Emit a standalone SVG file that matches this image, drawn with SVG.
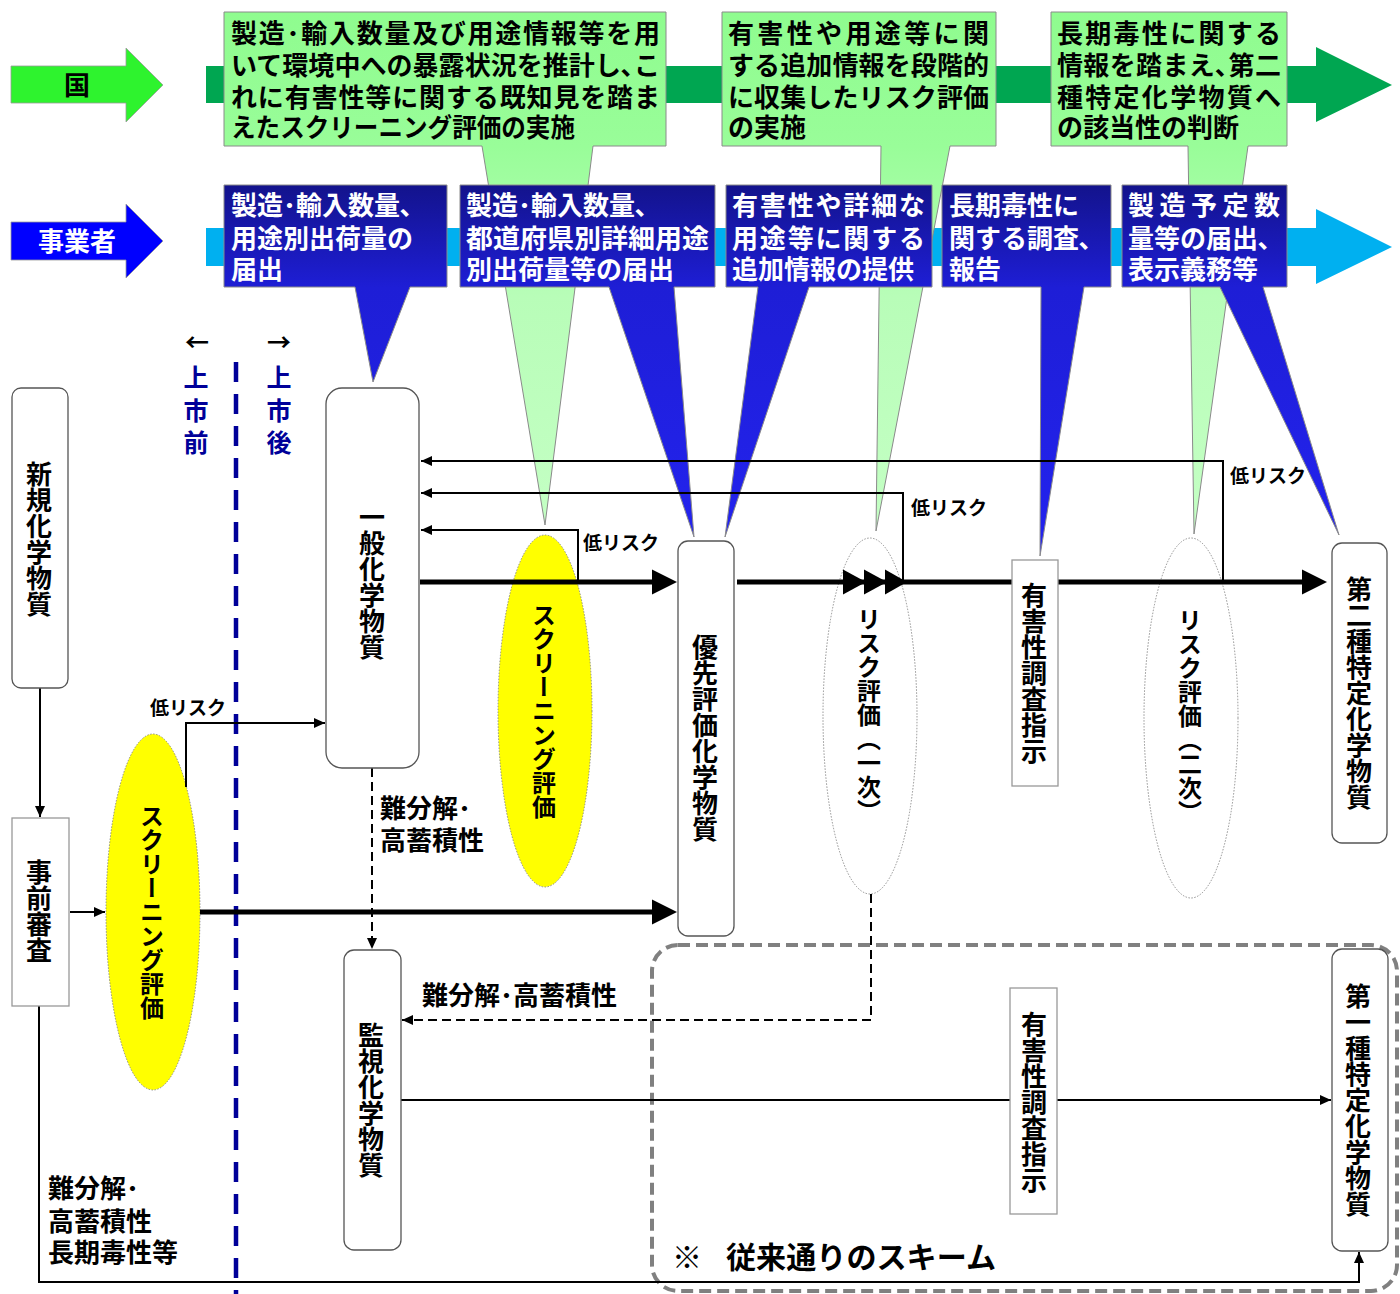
<svg xmlns="http://www.w3.org/2000/svg" width="1400" height="1294" viewBox="0 0 1400 1294">
<defs>
<linearGradient id="gGreen" gradientUnits="userSpaceOnUse" x1="0" y1="12" x2="0" y2="530">
<stop offset="0" stop-color="#8ffc8f"/>
<stop offset="0.26" stop-color="#99fd99"/>
<stop offset="0.55" stop-color="#b8fdb8"/>
<stop offset="1" stop-color="#c4ffc4"/>
</linearGradient>
<linearGradient id="gBlue" gradientUnits="userSpaceOnUse" x1="0" y1="185" x2="0" y2="540">
<stop offset="0" stop-color="#13138c"/>
<stop offset="0.29" stop-color="#1e1ed6"/>
<stop offset="1" stop-color="#2323ee"/>
</linearGradient>
<marker id="ah" markerUnits="userSpaceOnUse" markerWidth="12" markerHeight="10" refX="11" refY="5" orient="auto">
<path d="M0,0 L11,5 L0,10 Z" fill="#000"/>
</marker>
</defs>
<style>
text { font-family: "Noto Sans CJK JP", "Noto Sans", sans-serif; font-weight: bold; }
.v { writing-mode: vertical-rl; text-anchor: middle; }
.box { fill: #fff; stroke: #555; stroke-width: 1.3; }
.sq { fill: #fff; stroke: #999; stroke-width: 1.3; }
.ey { fill: #ffff00; stroke: #777; stroke-width: 0.8; stroke-dasharray: 1.5 1.5; }
.ew { fill: #fff; stroke: #777; stroke-width: 0.8; stroke-dasharray: 1.5 1.5; }
.ln { fill: none; stroke: #000; stroke-width: 2; }
.dl { fill: none; stroke: #000; stroke-width: 2; stroke-dasharray: 9 5; }
.th { fill: none; stroke: #000; stroke-width: 5; }
.hd { fill: #000; }
.gt { font-size: 26px; fill: #000; }
.bt { font-size: 26px; fill: #fff; }
.lr { font-size: 19px; fill: #000; }
.lb { font-size: 26px; fill: #000; }
.nv { fill: #000099; }
.gc { fill: url(#gGreen); stroke: #8a8a8a; stroke-width: 1; }
.bc { fill: url(#gBlue); stroke: #8a8a8a; stroke-width: 1; }
</style>
<rect width="1400" height="1294" fill="#fff"/>

<!-- bands -->
<g id="band-kuni">
<polygon points="206,66 1316,66 1316,47 1392,85 1316,122 1316,103 206,103" fill="#00a651"/>
</g>
<g id="band-jigyosha">
<polygon points="206,228 1316,228 1316,209 1392,247 1316,284 1316,266 206,266" fill="#00b0f0"/>
</g>
<g id="arrow-kuni">
<polygon points="11,66 126,66 126,48 163,85 126,122 126,103 11,103" fill="#2ef32e" stroke="#9a9a9a" stroke-width="0.8"/>
<text class="gt" x="77" y="95" text-anchor="middle">国</text>
</g>
<g id="arrow-jigyosha">
<polygon points="11,222 126,222 126,204 163,241 126,278 126,260 11,260" fill="#0000ff" stroke="#9a9a9a" stroke-width="0.8"/>
<text class="bt" x="77" y="251" text-anchor="middle">事業者</text>
</g>

<!-- green callouts -->
<g id="callout-g1">
<path class="gc" d="M224,12 H666 V146 H593 L545,525 L482,146 H224 Z"/>
<text class="gt"><tspan x="231" y="43" textLength="429" lengthAdjust="spacing">製造･輸入数量及び用途情報等を用</tspan><tspan x="231" y="75" textLength="429" lengthAdjust="spacing">いて環境中への暴露状況を推計し､こ</tspan><tspan x="231" y="107" textLength="429" lengthAdjust="spacing">れに有害性等に関する既知見を踏ま</tspan><tspan x="231" y="137" textLength="344" lengthAdjust="spacingAndGlyphs">えたスクリーニング評価の実施</tspan></text>
</g>
<g id="callout-g2">
<path class="gc" d="M722,12 H996 V146 H950 L876,531 L881,146 H722 Z"/>
<text class="gt"><tspan x="728" y="43" textLength="261" lengthAdjust="spacing">有害性や用途等に関</tspan><tspan x="728" y="75" textLength="261" lengthAdjust="spacing">する追加情報を段階的</tspan><tspan x="728" y="107" textLength="261" lengthAdjust="spacing">に収集したリスク評価</tspan><tspan x="728" y="137">の実施</tspan></text>
</g>
<g id="callout-g3">
<path class="gc" d="M1051,12 H1287 V146 H1248 L1194,534 L1188,146 H1051 Z"/>
<text class="gt"><tspan x="1057" y="43" textLength="224" lengthAdjust="spacing">長期毒性に関する</tspan><tspan x="1057" y="75" textLength="224" lengthAdjust="spacing">情報を踏まえ､第二</tspan><tspan x="1057" y="107" textLength="224" lengthAdjust="spacing">種特定化学物質へ</tspan><tspan x="1057" y="137">の該当性の判断</tspan></text>
</g>

<!-- blue callouts -->
<g id="callout-b1">
<path class="bc" d="M224,185 H447 V287 H410 L373,382 L355,287 H224 Z"/>
<text class="bt"><tspan x="231" y="215">製造･輸入数量､</tspan><tspan x="231" y="248">用途別出荷量の</tspan><tspan x="231" y="279">届出</tspan></text>
</g>
<g id="callout-b2">
<path class="bc" d="M460,185 H715 V287 H674 L694,537 L609,287 H460 Z"/>
<text class="bt"><tspan x="466" y="215">製造･輸入数量､</tspan><tspan x="466" y="248" textLength="243" lengthAdjust="spacingAndGlyphs">都道府県別詳細用途</tspan><tspan x="466" y="279">別出荷量等の届出</tspan></text>
</g>
<g id="callout-b3">
<path class="bc" d="M726,185 H932 V287 H809 L725,537 L758,287 H726 Z"/>
<text class="bt"><tspan x="732" y="215" textLength="193" lengthAdjust="spacing">有害性や詳細な</tspan><tspan x="732" y="248" textLength="193" lengthAdjust="spacing">用途等に関する</tspan><tspan x="732" y="279">追加情報の提供</tspan></text>
</g>
<g id="callout-b4">
<path class="bc" d="M942,185 H1111 V287 H1084 L1040,556 L1041,287 H942 Z"/>
<text class="bt"><tspan x="949" y="215">長期毒性に</tspan><tspan x="949" y="248">関する調査､</tspan><tspan x="949" y="279">報告</tspan></text>
</g>
<g id="callout-b5">
<path class="bc" d="M1122,185 H1287 V287 H1263 L1339,535 L1220,287 H1122 Z"/>
<text class="bt"><tspan x="1128" y="215" textLength="152" lengthAdjust="spacing">製造予定数</tspan><tspan x="1128" y="248">量等の届出､</tspan><tspan x="1128" y="279">表示義務等</tspan></text>
</g>

<!-- market divider -->
<g id="divider">
<line x1="236" y1="362" x2="236" y2="1294" stroke="#000099" stroke-width="4.5" stroke-dasharray="20 12"/>
<text x="197" y="351" font-size="24" text-anchor="middle" fill="#000">←</text>
<text x="279" y="351" font-size="24" text-anchor="middle" fill="#000">→</text>
<text class="v nv" x="196" y="414" font-size="25" letter-spacing="7.5">上市前</text>
<text class="v nv" x="279" y="414" font-size="25" letter-spacing="7.5">上市後</text>
</g>

<!-- scheme frame -->
<g id="scheme-frame">
<rect x="652" y="945" width="745" height="346" rx="26" fill="none" stroke="#808080" stroke-width="4" stroke-dasharray="12 6"/>
<text font-size="30" fill="#000"><tspan x="672" y="1268">※</tspan><tspan x="726" y="1268" textLength="270" lengthAdjust="spacingAndGlyphs">従来通りのスキーム</tspan></text>
</g>

<!-- ellipse nodes -->
<g id="node-screening1">
<ellipse class="ey" cx="153" cy="912" rx="47" ry="178"/>
<text class="v" x="152" y="912" font-size="24">スクリーニング評価</text>
</g>
<g id="node-screening2">
<ellipse class="ey" cx="545" cy="711" rx="47" ry="176"/>
<text class="v" x="544" y="711" font-size="24">スクリーニング評価</text>
</g>
<g id="node-risk1">
<ellipse class="ew" cx="870" cy="716" rx="47" ry="178"/>
<text class="v" x="869" y="715" font-size="24">リスク評価（一次）</text>
</g>
<g id="node-risk2">
<ellipse class="ew" cx="1191" cy="718" rx="47" ry="180"/>
<text class="v" x="1190" y="716" font-size="24">リスク評価（二次）</text>
</g>

<!-- connectors -->
<g id="connectors">
<path class="ln" d="M40,688 V817" marker-end="url(#ah)"/>
<path class="ln" d="M70,912 H105" marker-end="url(#ah)"/>
<path class="ln" d="M186,787 V723 H325" marker-end="url(#ah)"/>
<path class="th" d="M200,912 H655"/>
<polygon class="hd" points="652,899.5 677,912 652,924.5"/>
<path class="th" d="M420,582 H655"/>
<polygon class="hd" points="652,569.5 677,582 652,594.5"/>
<path class="th" d="M737,582 H1012"/>
<polygon class="hd" points="843,569.5 866,582 843,594.5"/>
<polygon class="hd" points="864,569.5 887,582 864,594.5"/>
<polygon class="hd" points="885,569.5 907,582 885,594.5"/>
<path class="th" d="M1058,582 H1305"/>
<polygon class="hd" points="1302,569.5 1327,582 1302,594.5"/>
<path class="ln" d="M578,582 V530 H421" marker-end="url(#ah)"/>
<path class="ln" d="M903,582 V493 H421" marker-end="url(#ah)"/>
<path class="ln" d="M1223,582 V461 H421" marker-end="url(#ah)"/>
<path class="dl" d="M372,768 V949" marker-end="url(#ah)"/>
<path class="dl" d="M871,894 V1020 H402" marker-end="url(#ah)"/>
<path class="ln" d="M401,1100 H1331" marker-end="url(#ah)"/>
<path class="ln" d="M39,1006 V1282 H1359 V1252" marker-end="url(#ah)"/>
<text class="lr" x="150" y="715">低リスク</text>
<text class="lr" x="583" y="550">低リスク</text>
<text class="lr" x="911" y="515">低リスク</text>
<text class="lr" x="1230" y="483">低リスク</text>
<text class="lb"><tspan x="380" y="818">難分解･</tspan><tspan x="380" y="850">高蓄積性</tspan></text>
<text class="lb" x="422" y="1005">難分解･高蓄積性</text>
<text class="lb"><tspan x="48" y="1198">難分解･</tspan><tspan x="48" y="1231">高蓄積性</tspan><tspan x="48" y="1262">長期毒性等</tspan></text>
</g>

<!-- box nodes -->
<g id="node-shinki">
<rect class="box" x="12" y="388" width="56" height="300" rx="9"/>
<text class="v lb" x="39" y="539" font-size="25.5">新規化学物質</text>
</g>
<g id="node-jizen">
<rect class="sq" x="12" y="818" width="57" height="188"/>
<text class="v lb" x="39" y="911">事前審査</text>
</g>
<g id="node-ippan">
<rect class="box" x="326" y="388" width="93" height="380" rx="16"/>
<text class="v lb" x="372" y="582">一般化学物質</text>
</g>
<g id="node-yusen">
<rect class="box" x="678" y="541" width="56" height="395" rx="10"/>
<text class="v lb" x="705" y="738">優先評価化学物質</text>
</g>
<g id="node-yugai1">
<rect class="sq" x="1012" y="560" width="46" height="226"/>
<text class="v lb" x="1034" y="673">有害性調査指示</text>
</g>
<g id="node-dai2">
<rect class="box" x="1332" y="543" width="55" height="300" rx="10"/>
<text class="v lb" x="1359" y="693">第二種特定化学物質</text>
</g>
<g id="node-kanshi">
<rect class="box" x="344" y="950" width="57" height="300" rx="10"/>
<text class="v lb" x="371" y="1100">監視化学物質</text>
</g>
<g id="node-yugai2">
<rect class="sq" x="1010" y="988" width="47" height="226"/>
<text class="v lb" x="1034" y="1102">有害性調査指示</text>
</g>
<g id="node-dai1">
<rect class="box" x="1332" y="949" width="56" height="302" rx="10"/>
<text class="v lb" x="1358" y="1100">第一種特定化学物質</text>
</g>
</svg>
